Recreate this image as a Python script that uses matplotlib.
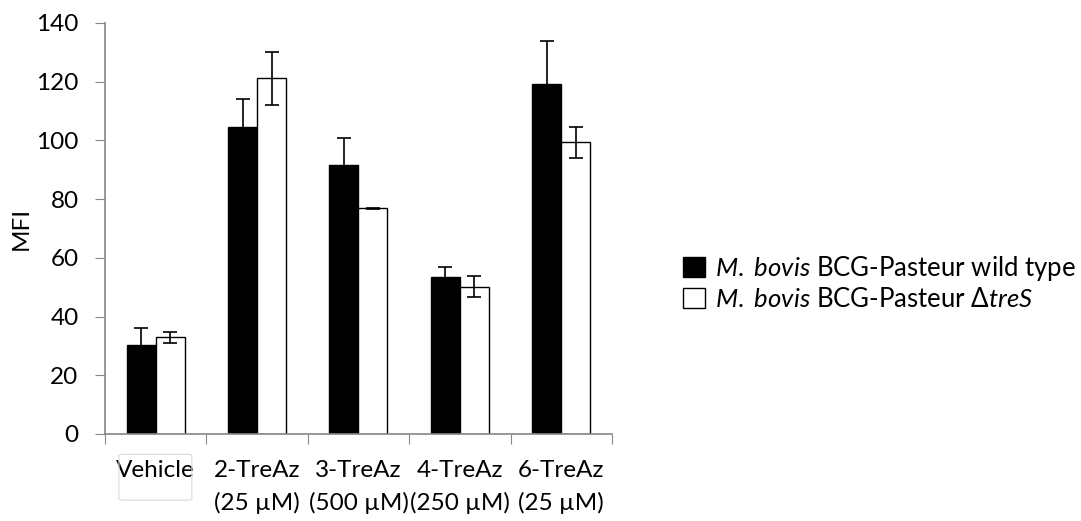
import numpy as np
import matplotlib.pyplot as plt
from matplotlib.patches import Patch, FancyBboxPatch

plt.rcParams['font.family'] = ['Lato', 'DejaVu Sans']
plt.rcParams['mathtext.fontset'] = 'custom'
plt.rcParams['mathtext.rm'] = 'Lato'
plt.rcParams['mathtext.it'] = 'Lato:italic'

# data
categories = ["Vehicle\n ", "2-TreAz\n(25 µM)", "3-TreAz\n(500 µM)", "4-TreAz\n(250 µM)", "6-TreAz\n(25 µM)"]
wild_type = [30.3, 104.7, 91.7, 53.3, 119.1]
wild_type_err = [5.8, 9.3, 9.0, 3.5, 14.8]
tres = [33.0, 121.1, 76.8, 50.2, 99.4]
tres_err = [1.9, 9.0, 0.3, 3.7, 5.3]
legend_labels = [r"$\mathit{M.}$ $\mathit{bovis}$ BCG-Pasteur wild type",
                 r"$\mathit{M.}$ $\mathit{bovis}$ BCG-Pasteur $\mathit{\Delta treS}$"]

fig = plt.figure(figsize=(10.81, 5.21), dpi=100)
ax = fig.add_axes([0.0971, 0.167, 0.469, 0.789])

x = np.arange(len(categories))
w = 0.286

ax.bar(x - w / 2, wild_type, w, color="black", edgecolor="black", linewidth=1)
ax.bar(x + w / 2, tres, w, color="white", edgecolor="black", linewidth=1)
ax.errorbar(x - w / 2, wild_type, yerr=wild_type_err, fmt="none", ecolor="black",
            elinewidth=1.2, capsize=5, capthick=1.2, zorder=3)
ax.errorbar(x + w / 2, tres, yerr=tres_err, fmt="none", ecolor="black",
            elinewidth=1.2, capsize=5, capthick=1.2, zorder=3)

ax.set_xlim(-0.5, len(categories) - 0.5)
ax.set_ylim(0, 140)
ax.set_yticks(np.arange(0, 141, 20))
ax.tick_params(axis="y", labelsize=17.5, direction="out", length=7, color="#868686", pad=12)

# category boundary ticks, labels in the middle
ax.set_xticks(np.arange(-0.5, len(categories), 1.0))
ax.set_xticklabels([])
ax.set_xticks(x, minor=True)
ax.set_xticklabels(categories, minor=True, fontsize=17.5, linespacing=1.6)
ax.tick_params(axis="x", which="major", direction="out", length=7, color="#868686")
ax.tick_params(axis="x", which="minor", length=0, pad=19)

for side in ["top", "right"]:
    ax.spines[side].set_visible(False)
for side in ["left", "bottom"]:
    ax.spines[side].set_color("#868686")
    ax.spines[side].set_linewidth(1.2)

ax.set_ylabel("MFI", fontsize=17.5, labelpad=3)

# faint stray box around "Vehicle" seen in the original figure
fig.patches.append(FancyBboxPatch((0.110, 0.040), 0.0675, 0.088, transform=fig.transFigure,
                                  boxstyle="round,pad=0,rounding_size=0.003",
                                  fc="none", ec="#d9d9d9", lw=0.8))

handles = [Patch(facecolor="black", edgecolor="black"),
           Patch(facecolor="white", edgecolor="black")]
fig.legend(handles, legend_labels, loc="center left", bbox_to_anchor=(0.632, 0.457),
           frameon=False, fontsize=18.5, handlelength=0.85, handleheight=0.85,
           handletextpad=0.4, labelspacing=0.17, borderpad=0, borderaxespad=0)

plt.savefig("out.png", dpi=100)
